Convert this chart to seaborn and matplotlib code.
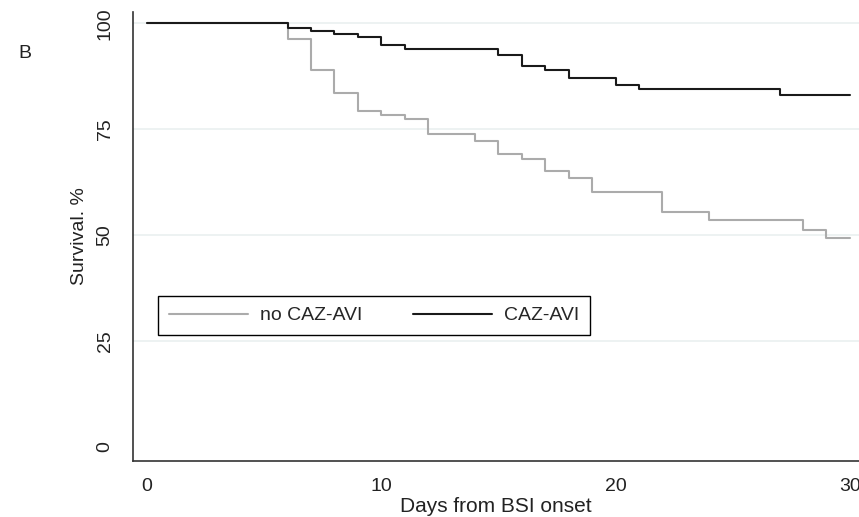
import pandas as pd
import numpy as np
import matplotlib
matplotlib.use("Agg")
import matplotlib.pyplot as plt
import seaborn as sns

# Kaplan-Meier steps (day, survival %)
caz_days = [0, 6, 7, 8, 9, 10, 11, 15, 16, 17, 18, 20, 21, 27, 30]
caz_surv = [100, 98.9, 98.1, 97.4, 96.7, 94.8, 93.9, 92.5, 89.9, 89.1, 87.2, 85.4, 84.6, 83.0, 83.0]

no_days = [0, 6, 7, 8, 9, 10, 11, 12, 14, 15, 16, 17, 18, 19, 22, 24, 28, 29, 30]
no_surv = [100, 96.3, 89.1, 83.5, 79.4, 78.5, 77.5, 74.0, 72.2, 69.1, 68.0, 65.1, 63.6, 60.2, 55.5, 53.5, 51.2, 49.3, 49.3]

groups = ["no CAZ-AVI", "CAZ-AVI"]
colors = {"no CAZ-AVI": "#ababab", "CAZ-AVI": "#1a1a1a"}
x_ticks = [0, 10, 20, 30]
y_ticks = [0, 25, 50, 75, 100]

df = pd.concat([
    pd.DataFrame({"day": no_days, "surv": no_surv, "group": groups[0]}),
    pd.DataFrame({"day": caz_days, "surv": caz_surv, "group": groups[1]}),
])

sns.set_style("white")
plt.rcParams["font.family"] = ["Liberation Sans", "DejaVu Sans"]

fig = plt.figure(figsize=(8.59, 5.17), dpi=100)
ax = fig.add_axes([0.1548, 0.1083, 0.8452, 0.8685])

# faint horizontal grid (none at 0)
for y in y_ticks[1:]:
    ax.axhline(y, color="#eaf0f0", linewidth=1.2, zorder=0)

sns.lineplot(data=df, x="day", y="surv", hue="group", hue_order=groups,
             palette=colors, drawstyle="steps-post", estimator=None,
             linewidth=1.5, legend=False, ax=ax)

ax.set_xlim(-0.6, 30.39)
ax.set_ylim(-3.3, 102.7)
ax.set_xticks(x_ticks)
ax.set_yticks(y_ticks)

for side in ["top", "right"]:
    ax.spines[side].set_visible(False)
for side in ["left", "bottom"]:
    ax.spines[side].set_color("#333333")
    ax.spines[side].set_linewidth(1.2)

ax.tick_params(axis="both", direction="out", length=5, width=1.2, color="#333333",
               labelsize=14, labelcolor="#222222")
ax.tick_params(axis="x", pad=7)
ax.tick_params(axis="y", pad=9)
for lab in ax.get_yticklabels():
    lab.set_rotation(90)
    lab.set_va("center")

ax.set_xlabel("Days from BSI onset", fontsize=15, color="#222222", labelpad=2)
ax.set_ylabel("Survival. %", fontsize=14, color="#222222")
ax.yaxis.set_label_coords(-0.062, 0.5)

handles = [plt.Line2D([], [], color=colors[g], linewidth=1.5) for g in groups]
leg = ax.legend(handles, groups, loc="lower left", ncol=2, mode="expand",
                bbox_to_anchor=(0.0344, 0.2806, 0.595, 0.0846),
                borderaxespad=0, fontsize=14, handlelength=4.1, handletextpad=0.6,
                borderpad=0.55, fancybox=False, framealpha=1, edgecolor="black")
leg.get_frame().set_linewidth(1.0)

fig.text(0.021, 0.888, "B", fontsize=14, color="#222222")

fig.savefig("out.png", dpi=100)
